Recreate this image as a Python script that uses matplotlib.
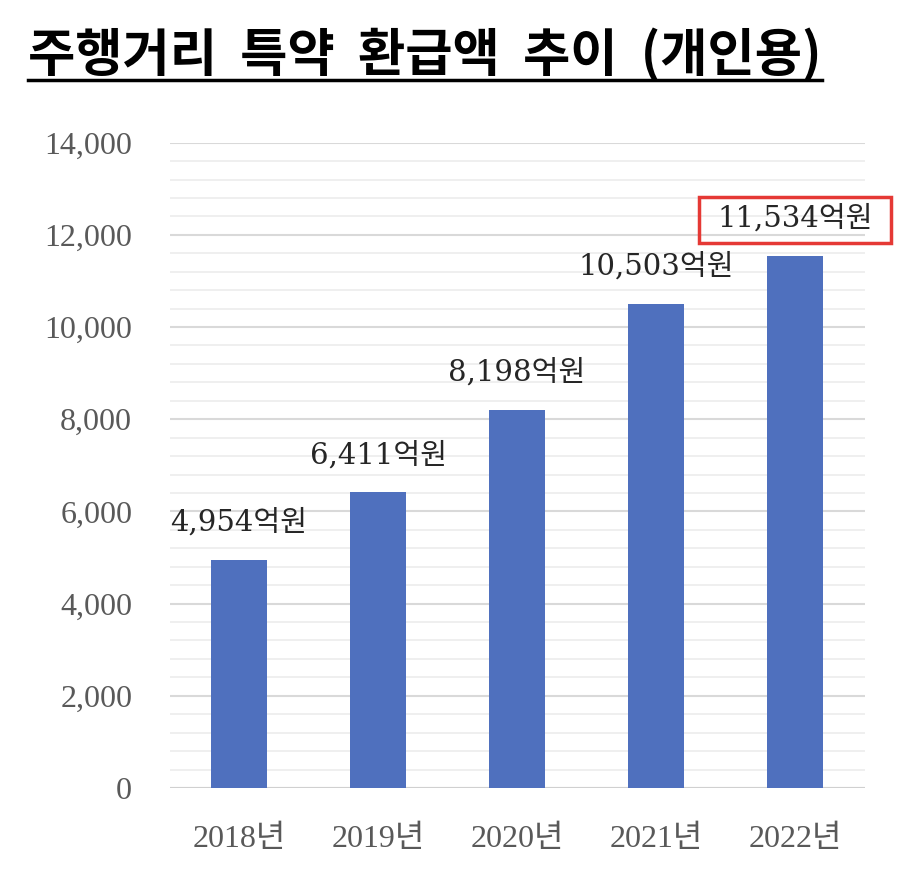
import numpy as np
import matplotlib.pyplot as plt
from matplotlib.ticker import MultipleLocator, FuncFormatter
from matplotlib.lines import Line2D
from matplotlib.patches import Rectangle

years = ['2018년', '2019년', '2020년', '2021년', '2022년']
amounts = [4954, 6411, 8198, 10503, 11534]
labels = ['4,954억원', '6,411억원', '8,198억원', '10,503억원', '11,534억원']

tick_font = ['Liberation Serif', 'Noto Sans CJK KR']
label_font = ['DejaVu Serif', 'Noto Sans CJK KR']

fig = plt.figure(figsize=(9.12, 8.94), dpi=100)
ax = fig.add_axes([0.186, 0.1186, 0.762, 0.7218])

x = np.arange(len(years))
ax.bar(x, amounts, width=0.4, color='#4F70BE', zorder=3)

ax.set_xlim(-0.5, 4.5)
ax.set_ylim(0, 14000)
ax.yaxis.set_major_locator(MultipleLocator(2000))
ax.yaxis.set_minor_locator(MultipleLocator(400))
ax.yaxis.set_major_formatter(FuncFormatter(lambda v, p: f'{int(v):,}'))
ax.grid(axis='y', which='major', color='#d9d9d9', linewidth=1.5, zorder=0)
ax.grid(axis='y', which='minor', color='#ececec', linewidth=1.2, zorder=0)
ax.axhline(0, color='#d0d0d0', linewidth=1.5, zorder=2)

for s in ax.spines.values():
    s.set_visible(False)
ax.tick_params(which='both', length=0)
ax.tick_params(axis='y', pad=27, colors='#595959')
ax.tick_params(axis='x', pad=27, colors='#595959')
ax.set_xticks(x)
ax.set_xticklabels(years)
for t in ax.get_yticklabels() + ax.get_xticklabels():
    t.set_family(tick_font)
    t.set_fontsize(23)

texts = []
for i, (v, lab) in enumerate(zip(amounts, labels)):
    t = ax.annotate(lab, (i, v), xytext=(0, 27), textcoords='offset points',
                    ha='center', va='center', fontsize=21, color='#262626',
                    family=label_font, zorder=5)
    texts.append(t)

title = fig.text(0.031, 0.938, '주행거리  특약  환급액  추이  (개인용)', ha='left', va='center',
                 fontsize=37, fontweight='bold', color='black',
                 family=['Noto Sans CJK KR', 'DejaVu Sans'])

fig.canvas.draw()
inv = fig.transFigure.inverted()
bb = title.get_window_extent().transformed(inv)
fig.add_artist(Line2D([bb.x0, bb.x1], [0.910, 0.910], color='black', linewidth=2.5,
                      transform=fig.transFigure))

# red box around the latest value
tb = texts[-1].get_window_extent()
(x0, y0), (x1, y1) = inv.transform([(tb.x0 - 18, tb.y0 - 10), (tb.x1 + 18, tb.y1 + 8)])
fig.add_artist(Rectangle((x0, y0), x1 - x0, y1 - y0, transform=fig.transFigure,
                         facecolor='none', edgecolor='#e53935', linewidth=2.5))

fig.savefig('out.png', dpi=100)
